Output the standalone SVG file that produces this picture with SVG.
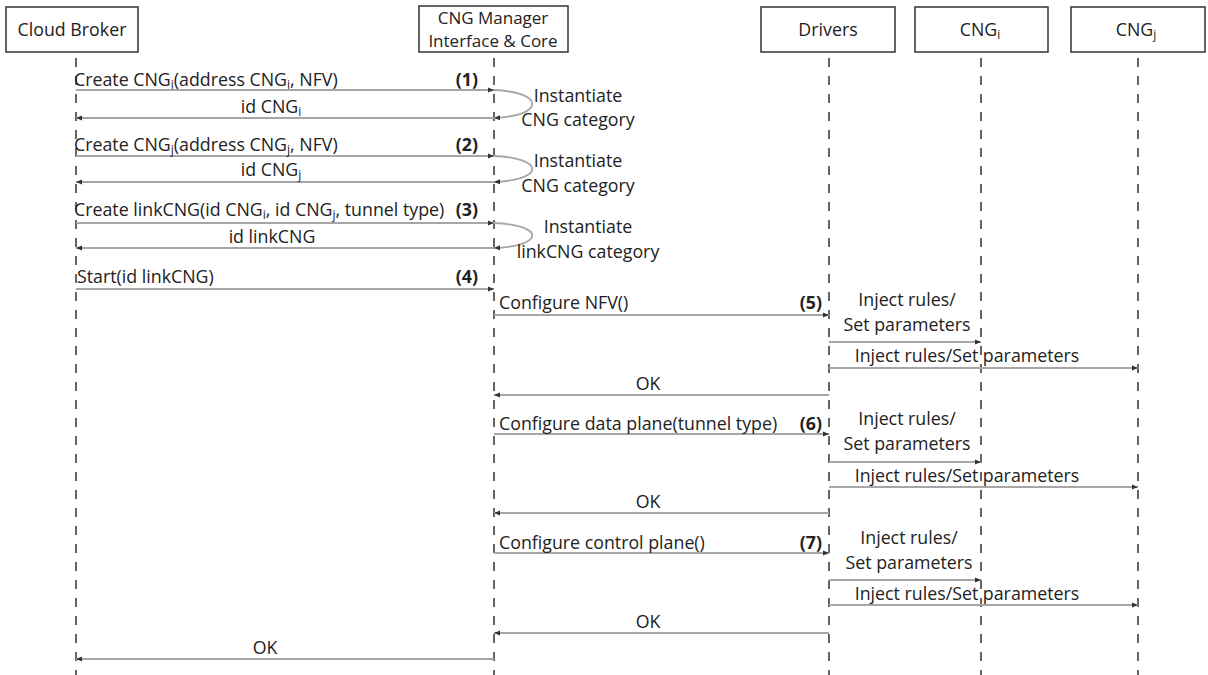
<svg xmlns="http://www.w3.org/2000/svg" width="1208" height="675" viewBox="0 0 1208 675">
  <style>
    text { font-family: "Open Sans", "Liberation Sans", sans-serif; font-size: 17.8px; fill: #222; }
    .hdr { font-size: 17px; }
    .num { font-weight: bold; }
    .mid { text-anchor: middle; }
    .end { text-anchor: end; }
    .sub { font-size: 12px; }
    .box { fill: #fff; stroke: #333; stroke-width: 1.5; }
    .life { stroke: #333; stroke-width: 1.5; stroke-dasharray: 9 9; fill: none; }
    .msg { stroke: #a6a6a6; stroke-width: 1.8; fill: none; marker-end: url(#head); }
  </style>
  <defs>
    <marker id="head" markerUnits="userSpaceOnUse" markerWidth="7" markerHeight="6" refX="6" refY="3" orient="auto">
      <path d="M0,0.5 L6,3 L0,5.5 Z" fill="#333"/>
    </marker>
  </defs>
  <rect width="1208" height="675" fill="#fff"/>

  <!-- lifelines -->
  <g id="lifelines">
    <line class="life" x1="76" y1="58" x2="76" y2="675"/>
    <line class="life" x1="494" y1="58" x2="494" y2="675"/>
    <line class="life" x1="829" y1="58" x2="829" y2="675"/>
    <line class="life" x1="981" y1="58" x2="981" y2="675"/>
    <line class="life" x1="1138" y1="58" x2="1138" y2="675"/>
  </g>

  <!-- participants -->
  <g id="cloud-broker">
    <rect class="box" x="6" y="7" width="132" height="45"/>
    <text class="mid" x="72" y="36">Cloud Broker</text>
  </g>
  <g id="cng-manager">
    <rect class="box" x="419" y="6" width="149" height="46"/>
    <text class="mid hdr" x="493" y="24">CNG Manager</text>
    <text class="mid hdr" x="493" y="47">Interface &amp; Core</text>
  </g>
  <g id="drivers">
    <rect class="box" x="761" y="7" width="134" height="45"/>
    <text class="mid" x="828" y="36">Drivers</text>
  </g>
  <g id="cng-i">
    <rect class="box" x="915" y="7" width="133" height="45"/>
    <text class="mid" x="980" y="36">CNG<tspan class="sub" dy="3">i</tspan></text>
  </g>
  <g id="cng-j">
    <rect class="box" x="1071" y="7" width="134" height="45"/>
    <text class="mid" x="1136" y="36">CNG<tspan class="sub" dy="3">j</tspan></text>
  </g>

  <!-- messages -->
  <g id="connectors">
    <path class="msg" d="M76,90 H494"/>
    <path class="msg" d="M494,90 C545,92 545,116 494,118"/>
    <path class="msg" d="M494,118 H76"/>
    <path class="msg" d="M76,156 H494"/>
    <path class="msg" d="M494,156 C545,158 545,180 494,182"/>
    <path class="msg" d="M494,182 H76"/>
    <path class="msg" d="M76,223 H494"/>
    <path class="msg" d="M494,223 C545,225 545,246 494,248"/>
    <path class="msg" d="M494,248 H76"/>
    <path class="msg" d="M76,289 H494"/>

    <path class="msg" d="M494,315 H829"/>
    <path class="msg" d="M829,342 H981"/>
    <path class="msg" d="M829,368 H1138"/>
    <path class="msg" d="M829,395 H494"/>

    <path class="msg" d="M494,434 H829"/>
    <path class="msg" d="M829,462 H981"/>
    <path class="msg" d="M829,487 H1138"/>
    <path class="msg" d="M829,513 H494"/>

    <path class="msg" d="M494,553 H829"/>
    <path class="msg" d="M829,580 H981"/>
    <path class="msg" d="M829,605 H1138"/>
    <path class="msg" d="M829,633 H494"/>
    <path class="msg" d="M494,659 H76"/>
  </g>

  <!-- message labels -->
  <g id="labels">
    <text x="74" y="86">Create CNG<tspan class="sub" dy="3">i</tspan><tspan dy="-3">(address CNG</tspan><tspan class="sub" dy="3">i</tspan><tspan dy="-3">, NFV)</tspan></text>
    <text class="num end" x="478" y="86">(1)</text>
    <text class="mid" x="271" y="113">id CNG<tspan class="sub" dy="3">i</tspan></text>
    <text class="mid" x="578" y="102">Instantiate</text>
    <text class="mid" x="578" y="126">CNG category</text>

    <text x="74" y="151">Create CNG<tspan class="sub" dy="3">j</tspan><tspan dy="-3">(address CNG</tspan><tspan class="sub" dy="3">j</tspan><tspan dy="-3">, NFV)</tspan></text>
    <text class="num end" x="478" y="151">(2)</text>
    <text class="mid" x="271" y="176">id CNG<tspan class="sub" dy="3">j</tspan></text>
    <text class="mid" x="578" y="167">Instantiate</text>
    <text class="mid" x="578" y="192">CNG category</text>

    <text x="74" y="216">Create linkCNG(id CNG<tspan class="sub" dy="3">i</tspan><tspan dy="-3">, id CNG</tspan><tspan class="sub" dy="3">j</tspan><tspan dy="-3">, tunnel type)</tspan></text>
    <text class="num end" x="478" y="216">(3)</text>
    <text class="mid" x="272" y="243">id linkCNG</text>
    <text class="mid" x="588" y="233">Instantiate</text>
    <text class="mid" x="588" y="258">linkCNG category</text>

    <text x="77" y="283">Start(id linkCNG)</text>
    <text class="num end" x="478" y="283">(4)</text>

    <text x="499" y="309">Configure NFV()</text>
    <text class="num end" x="822" y="309">(5)</text>
    <text class="mid" x="907" y="306">Inject rules/</text>
    <text class="mid" x="907" y="331">Set parameters</text>
    <text class="mid" x="967" y="362">Inject rules/Set parameters</text>
    <text class="mid" x="648" y="390">OK</text>

    <text x="499" y="430">Configure data plane(tunnel type)</text>
    <text class="num end" x="822" y="430">(6)</text>
    <text class="mid" x="907" y="425">Inject rules/</text>
    <text class="mid" x="907" y="450">Set parameters</text>
    <text class="mid" x="967" y="482">Inject rules/Set parameters</text>
    <text class="mid" x="648" y="508">OK</text>

    <text x="499" y="549">Configure control plane()</text>
    <text class="num end" x="822" y="549">(7)</text>
    <text class="mid" x="909" y="544">Inject rules/</text>
    <text class="mid" x="909" y="569">Set parameters</text>
    <text class="mid" x="967" y="600">Inject rules/Set parameters</text>
    <text class="mid" x="648" y="628">OK</text>

    <text class="mid" x="265" y="654">OK</text>
  </g>
</svg>
